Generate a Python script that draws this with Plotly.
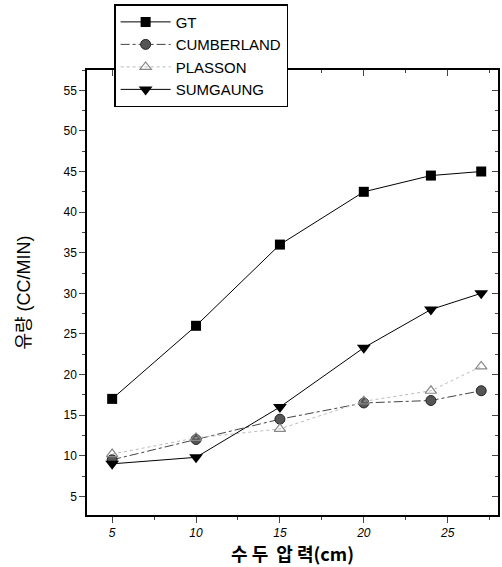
import plotly.graph_objects as go

x_vals = [5, 10, 15, 20, 24, 27]
gt = [17, 26, 36, 42.5, 44.5, 45]
cumberland = [9.5, 12, 14.5, 16.5, 16.8, 18]
plasson = [10.2, 12.2, 13.3, 16.7, 18, 21]
sumgaung = [9, 9.8, 16, 23.3, 28, 30]

x_ticks = [5, 10, 15, 20, 25]
y_ticks = [5, 10, 15, 20, 25, 30, 35, 40, 45, 50, 55]

fig = go.Figure()
fig.add_trace(go.Scatter(x=x_vals, y=gt, name="GT", mode="lines+markers",
                         line=dict(color="black", width=1),
                         marker=dict(symbol="square", size=10, color="black")))
fig.add_trace(go.Scatter(x=x_vals, y=cumberland, name="CUMBERLAND", mode="lines+markers",
                         line=dict(color="#444", width=1, dash="dashdot"),
                         marker=dict(symbol="circle", size=10, color="#555",
                                     line=dict(color="#222", width=1))))
fig.add_trace(go.Scatter(x=x_vals, y=plasson, name="PLASSON", mode="lines+markers",
                         line=dict(color="#bbb", width=1, dash="dot"),
                         marker=dict(symbol="triangle-up-open", size=10, color="#888",
                                     line=dict(width=1.2))))
fig.add_trace(go.Scatter(x=x_vals, y=sumgaung, name="SUMGAUNG", mode="lines+markers",
                         line=dict(color="black", width=1),
                         marker=dict(symbol="triangle-down", size=12, color="black")))
# mirrored axes carrying inward ticks on top/right
fig.add_trace(go.Scatter(x=x_vals, y=gt, xaxis="x2", yaxis="y2", mode="markers",
                         marker=dict(opacity=0), showlegend=False, hoverinfo="skip"))

font = "Liberation Sans, Arial, Noto Sans CJK KR, sans-serif"
fig.update_layout(
    width=502, height=567,
    margin=dict(l=87, r=4, t=70, b=52),
    paper_bgcolor="white", plot_bgcolor="white",
    font=dict(family=font, color="black"),
    xaxis=dict(range=[3.5, 28], tickvals=x_ticks, ticks="outside", ticklen=6,
               tickfont=dict(size=12, family="Liberation Sans", style="italic"),
               showgrid=False, zeroline=False, showline=True, linecolor="black", linewidth=1.5,
               minor=dict(dtick=2.5, tick0=0, ticks="outside", ticklen=3),
               title=dict(text="수 두  압 력(cm)", font=dict(size=18, family="Noto Sans CJK KR", weight=600), standoff=6)),
    yaxis=dict(range=[2.7, 57.5], tickvals=y_ticks, ticks="outside", ticklen=6,
               tickfont=dict(size=12),
               showgrid=False, zeroline=False, showline=True, linecolor="black", linewidth=1.5,
               minor=dict(dtick=2.5, tick0=0, ticks="outside", ticklen=3),
               title=dict(text="유량 (CC/MIN)", font=dict(size=18, family="Liberation Sans, Noto Sans CJK KR"), standoff=28)),
    xaxis2=dict(overlaying="x", side="top", matches="x", range=[3.5, 28], tickvals=x_ticks,
                ticks="inside", ticklen=6, showticklabels=False, showgrid=False, zeroline=False,
                showline=True, linecolor="black", linewidth=1.5,
                minor=dict(dtick=2.5, tick0=0, ticks="inside", ticklen=3)),
    yaxis2=dict(overlaying="y", side="right", matches="y", range=[2.7, 57.5], tickvals=y_ticks,
                ticks="inside", ticklen=6, showticklabels=False, showgrid=False, zeroline=False,
                showline=True, linecolor="black", linewidth=1.5,
                minor=dict(dtick=2.5, tick0=0, ticks="inside", ticklen=3)),
    legend=dict(x=0.066, y=1.148, xanchor="left", yanchor="top",
                bgcolor="white", bordercolor="black", borderwidth=1.5,
                font=dict(size=15, family="Liberation Sans"), tracegroupgap=0,
                itemwidth=50),
    showlegend=True,
)
fig.write_html("out.html")
